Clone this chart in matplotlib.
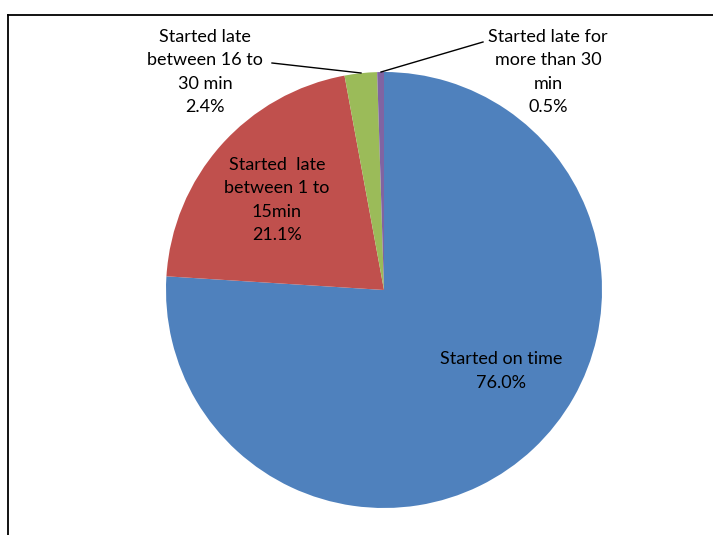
import matplotlib.pyplot as plt

labels = ["Started on time", "Started  late\nbetween 1 to\n15min",
          "Started late\nbetween 16 to\n30 min", "Started late for\nmore than 30\nmin"]
values = [76.0, 21.1, 2.4, 0.5]
colors = ["#4F81BD", "#C0504D", "#9BBB59", "#8064A2"]

W, H = 713, 535
fig = plt.figure(figsize=(W / 100, H / 100), dpi=100)
ax = fig.add_axes([0, 0, 1, 1])

cx, cy, r = 384, H - 290, 218
ax.pie(values, colors=colors, startangle=90, counterclock=False,
       center=(cx, cy), radius=r, frame=True,
       wedgeprops=dict(linewidth=0))
ax.set_xlim(0, W)
ax.set_ylim(0, H)
ax.set_aspect("equal")
ax.axis("off")

# marco
ax.plot([8, 8], [0, H - 15], color="black", lw=1.3)
ax.plot([8, W], [H - 15, H - 15], color="black", lw=1.3)

font = dict(family="Lato", fontsize=13, ha="center", va="center", linespacing=1.55)
txt = [l + "\n%.1f%%" % v for l, v in zip(labels, values)]
ax.text(501, H - 371, txt[0], **font)
ax.text(277, H - 200, txt[1], **font)
ax.text(205, H - 72, txt[2], **font)
ax.text(548, H - 72, txt[3], **font)

# lineas guia
ax.plot([272, 361], [H - 63, H - 73], color="black", lw=1)
ax.plot([381, 483], [H - 72, H - 42], color="black", lw=1)

plt.savefig("out.png", dpi=100)
